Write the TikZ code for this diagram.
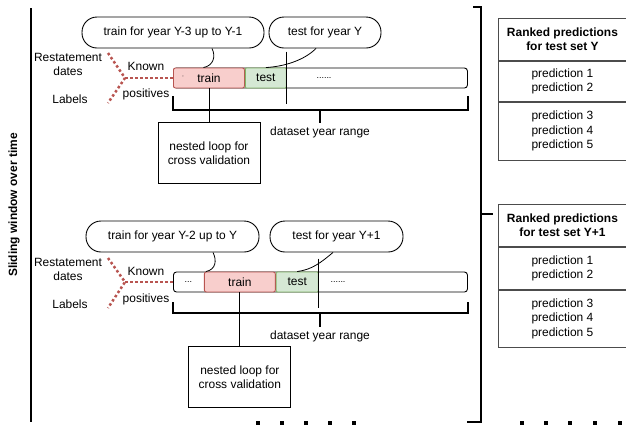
\documentclass[tikz,border=0pt]{standalone}
\usepackage{fontspec}
\setmainfont{Liberation Sans}
\usepackage{xcolor}
\usetikzlibrary{positioning, calc}
\definecolor{trainred}{HTML}{F8CECC}
\definecolor{trainline}{HTML}{B85450}
\definecolor{testgreen}{HTML}{D5E8D4}
\definecolor{testline}{HTML}{82B366}
\newcommand{\basefont}{\fontsize{12}{14.5}\selectfont}
\tikzstyle{bubble} = [rectangle, rounded corners=15bp, draw=black, fill=white, minimum height=31bp, text centered, inner sep=0pt]
\tikzstyle{yearbar} = [rectangle, rounded corners=3bp, draw=black, fill=white, minimum height=20bp, minimum width=294bp, inner sep=0pt]
\tikzstyle{trainpart} = [rectangle, rounded corners=2bp, draw=trainline, fill=trainred, minimum height=20bp, inner sep=0pt]
\tikzstyle{testpart} = [rectangle, rounded corners=1bp, draw=testline, fill=testgreen, minimum height=20bp, inner sep=0pt]
\tikzstyle{emptypart} = [rectangle, minimum height=20bp, inner sep=0pt, font=\fontsize{9}{9}\selectfont]
\tikzstyle{loopbox} = [rectangle, draw=black, minimum width=102bp, minimum height=61bp, align=center, inner sep=0pt]
\tikzstyle{rankhead} = [rectangle, draw=black!70, minimum width=128bp, align=center, inner sep=0pt, font=\basefont\bfseries]
\tikzstyle{rankpart} = [rectangle, draw=black!70, minimum width=128bp, align=center, inner sep=0pt]
\tikzstyle{marker} = [line width=2.5bp, dash pattern=on 2.5bp off 2.5bp, trainline]
\tikzstyle{bracket} = [line width=1.8bp]
\tikzstyle{tail} = [line width=0.8bp]

\begin{document}
\begin{tikzpicture}[x=1bp, y=-1bp, line width=0.9bp, font=\basefont]
    \useasboundingbox (0,0) rectangle (626,429);

    % Time axis
    \draw[line width=2.5bp] (31,8) -- (31,422);
    \node[rotate=90, font=\basefont\bfseries] (axis) at (14,205) {Sliding window over time};

    % Year Y
    \node[yearbar, anchor=west] (bar1) at (173,78) {};
    \node[trainpart, minimum width=71bp, anchor=west] (train1) at (bar1.west) {train};
    \node[testpart, minimum width=41bp, right=0pt of train1] (test1) {test};
    \node[emptypart] (rest1) at (324,78) {......};
    \node[font=\tiny] (mark1) at (183,77) {,};
    \draw ($(test1.north east)+(0,-16)$) -- ($(test1.south east)+(0,16)$);

    \node[bubble, minimum width=182bp] (say1) at (173,32.5) {train for year Y-3 up to Y-1};
    \node[bubble, minimum width=112bp] (saytest1) at (325,32.5) {test for year Y};
    \draw[tail] ([xshift=39bp]say1.south) .. controls +(4,8) and +(10,-2) .. ([xshift=30.5bp]train1.north west);
    \draw[tail] ([xshift=-9bp]saytest1.south) .. controls +(-12,12) and +(18,-1) .. (test1.north);

    \coordinate (brk1l) at (173,96);
    \coordinate (brk1r) at (468,96);
    \coordinate (brk1m) at (320,110);
    \draw[bracket] (brk1l) -- ++(0,14) -| (brk1r);
    \node (range1) at (320,132) {dataset year range};
    \draw[line width=1.5bp] (brk1m) -- (range1.north);

    \node[loopbox, below=34bp of train1] (loop1) {nested loop for\\cross validation};
    \draw (train1.south) -- (loop1.north);

    \coordinate (fork1) at (125,78);
    \coordinate (up1) at (108,53);
    \coordinate (lo1) at (108,103);
    \draw[marker] (up1) -- (fork1) -- (lo1);
    \draw[marker] (fork1) -- (bar1.west);
    \node[align=center] (restate1) at (68,64.5) {Restatement\\dates};
    \node (labels1) at (70,99) {Labels};
    \node (known1) at (146,66) {Known};
    \node (pos1) at (146,94) {positives};

    % Year Y+1
    \node[yearbar, anchor=west] (bar2) at (173,282) {};
    \node[emptypart, minimum width=30bp, anchor=west] (pre2) at (bar2.west) {...};
    \node[trainpart, minimum width=71bp, right=0pt of pre2] (train2) {train};
    \node[testpart, minimum width=42bp, right=0pt of train2] (test2) {test};
    \node[emptypart] (rest2) at (338,282) {......};
    \draw ($(test2.north east)+(0,-13)$) -- ($(test2.south east)+(0,16)$);

    \node[bubble, minimum width=173bp] (say2) at (172.5,236.5) {train for year Y-2 up to Y};
    \node[bubble, minimum width=133bp] (saytest2) at (336.5,236.5) {test for year Y+1};
    \draw[tail] ([xshift=40.5bp]say2.south) .. controls +(4,8) and +(10,-2) .. ([xshift=2bp]train2.north west);
    \draw[tail] ([xshift=-3.5bp]saytest2.south) .. controls +(-12,10) and +(15,-2) .. (test2.north);

    \coordinate (brk2l) at (173,302);
    \coordinate (brk2r) at (468,302);
    \coordinate (brk2m) at (320,313);
    \draw[bracket] (brk2l) -- ++(0,11) -| (brk2r);
    \node (range2) at (320,336) {dataset year range};
    \draw[line width=1.5bp] (brk2m) -- (range2.north);

    \node[loopbox, below=54bp of train2] (loop2) {nested loop for\\cross validation};
    \draw (train2.south) -- (loop2.north);

    \coordinate (fork2) at (125,282);
    \coordinate (up2) at (108,258);
    \coordinate (lo2) at (108,308);
    \draw[marker] (up2) -- (fork2) -- (lo2);
    \draw[marker] (fork2) -- (bar2.west);
    \node[align=center] (restate2) at (68,269.5) {Restatement\\dates};
    \node (labels2) at (70,304) {Labels};
    \node (known2) at (146,271) {Known};
    \node (pos2) at (146,299) {positives};

    % Ranked predictions
    \draw[line width=2bp] (473,7) -| (481,422) -- (467,422);
    \coordinate (fork) at (481,214);
    \coordinate (forkend) at (493,214);
    \draw[line width=1.5bp] (fork) -- (forkend);

    \node[rankhead, minimum height=42bp, anchor=north west] (head1) at (498,18) {Ranked predictions\\for test set Y};
    \node[rankpart, minimum height=40bp, below=0pt of head1] (part1a) {prediction 1\\prediction 2};
    \node[rankpart, minimum height=58bp, below=0pt of part1a] (part1b) {prediction 3\\prediction 4\\prediction 5};

    \node[rankhead, minimum height=42bp, anchor=north west] (head2) at (498,204) {Ranked predictions\\for test set Y+1};
    \node[rankpart, minimum height=42bp, below=0pt of head2] (part2a) {prediction 1\\prediction 2};
    \node[rankpart, minimum height=57bp, below=0pt of part2a] (part2b) {prediction 3\\prediction 4\\prediction 5};

    % More windows
    \foreach \x in {258,282,306,330,354,522,546,570,595,620}
        \fill (\x,423) +(-2,-2) rectangle +(2,2);

\end{tikzpicture}
\end{document}
